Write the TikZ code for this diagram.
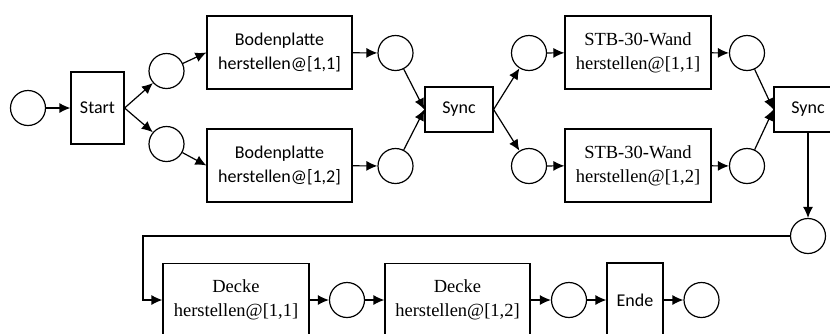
\documentclass[tikz,border=0pt]{standalone}
\usepackage{fontspec}
\setmainfont{Liberation Serif}
\setsansfont{Carlito}
\usepackage{tikz}
\usetikzlibrary{arrows.meta}

\begin{document}
\begin{tikzpicture}[x=1pt, y=-1pt, line width=1.2pt,
                    stelle/.style={draw, circle, minimum size=35pt, inner sep=0pt},
                    akt/.style={draw, rectangle, minimum width=145pt, minimum height=73pt, align=center, font=\fontsize{18.5}{24}\selectfont, inner sep=0pt},
                    aktsf/.style={akt, font=\sffamily\fontsize{18}{24}\selectfont},
                    pfeil/.style={-{Latex[length=11pt,width=10pt]}}]
                    \useasboundingbox (0,0) rectangle (830,333);
                    \node[stelle] (p0) at (28,108) {};
                    \node[aktsf, minimum width=53pt, minimum height=72pt] (start) at (97.5,108) {Start};
                    \node[stelle] (p1) at (166.5,71) {};
                    \node[stelle] (p2) at (166.5,144) {};
                    \node[aktsf] (bp1) at (279.5,52.5) {Bodenplatte\\herstellen@[1,1]};
                    \node[aktsf] (bp2) at (279.5,165.5) {Bodenplatte\\herstellen@[1,2]};
                    \node[stelle] (p3) at (395.5,53) {};
                    \node[stelle] (p4) at (395.5,166) {};
                    \node[aktsf, minimum width=68pt, minimum height=45pt] (sync1) at (459,109.5) {Sync};
                    \node[stelle] (p5) at (529,53) {};
                    \node[stelle] (p6) at (529,166) {};
                    \node[akt, minimum width=146pt] (stb1) at (638,52.5) {STB-30-Wand\\herstellen@[1,1]};
                    \node[akt, minimum width=146pt] (stb2) at (638,165.5) {STB-30-Wand\\herstellen@[1,2]};
                    \node[stelle] (p7) at (747,53) {};
                    \node[stelle] (p8) at (747,166) {};
                    \node[aktsf, minimum width=68pt, minimum height=45pt] (sync2) at (808,109.5) {Sync};
                    \node[stelle] (p9) at (808,236) {};
                    \coordinate (k1) at (143,236);
                    \coordinate (k2) at (143,300);
                    \node[akt, minimum width=146pt] (d1) at (236,300) {Decke\\herstellen@[1,1]};
                    \node[stelle] (p10) at (347,300) {};
                    \node[akt] (d2) at (457.5,300) {Decke\\herstellen@[1,2]};
                    \node[stelle] (p11) at (569,300) {};
                    \node[aktsf, minimum width=56pt, minimum height=74pt] (ende) at (635,300) {Ende};
                    \node[stelle] (p12) at (701.5,300) {};
                    \draw[pfeil] (p0) -- (start);
                    \draw[pfeil] (start.east) -- (p1);
                    \draw[pfeil] (start.east) -- (p2);
                    \draw[pfeil] (p1) -- (bp1.west);
                    \draw[pfeil] (p2) -- (bp2.west);
                    \draw[pfeil] (bp1) -- (p3);
                    \draw[pfeil] (bp2) -- (p4);
                    \draw[pfeil] (p3) -- (sync1.west);
                    \draw[pfeil] (p4) -- (sync1.west);
                    \draw[pfeil] (sync1.east) -- (p5);
                    \draw[pfeil] (sync1.east) -- (p6);
                    \draw[pfeil] (p5) -- (stb1);
                    \draw[pfeil] (p6) -- (stb2);
                    \draw[pfeil] (stb1) -- (p7);
                    \draw[pfeil] (stb2) -- (p8);
                    \draw[pfeil] (p7) -- (sync2.west);
                    \draw[pfeil] (p8) -- (sync2.west);
                    \draw[pfeil] (sync2) -- (p9);
                    \draw[pfeil] (p9) -- (k1) -- (k2) -- (d1);
                    \draw[pfeil] (d1) -- (p10);
                    \draw[pfeil] (p10) -- (d2);
                    \draw[pfeil] (d2) -- (p11);
                    \draw[pfeil] (p11) -- (ende);
                    \draw[pfeil] (ende) -- (p12);
                \end{tikzpicture}
\end{document}
